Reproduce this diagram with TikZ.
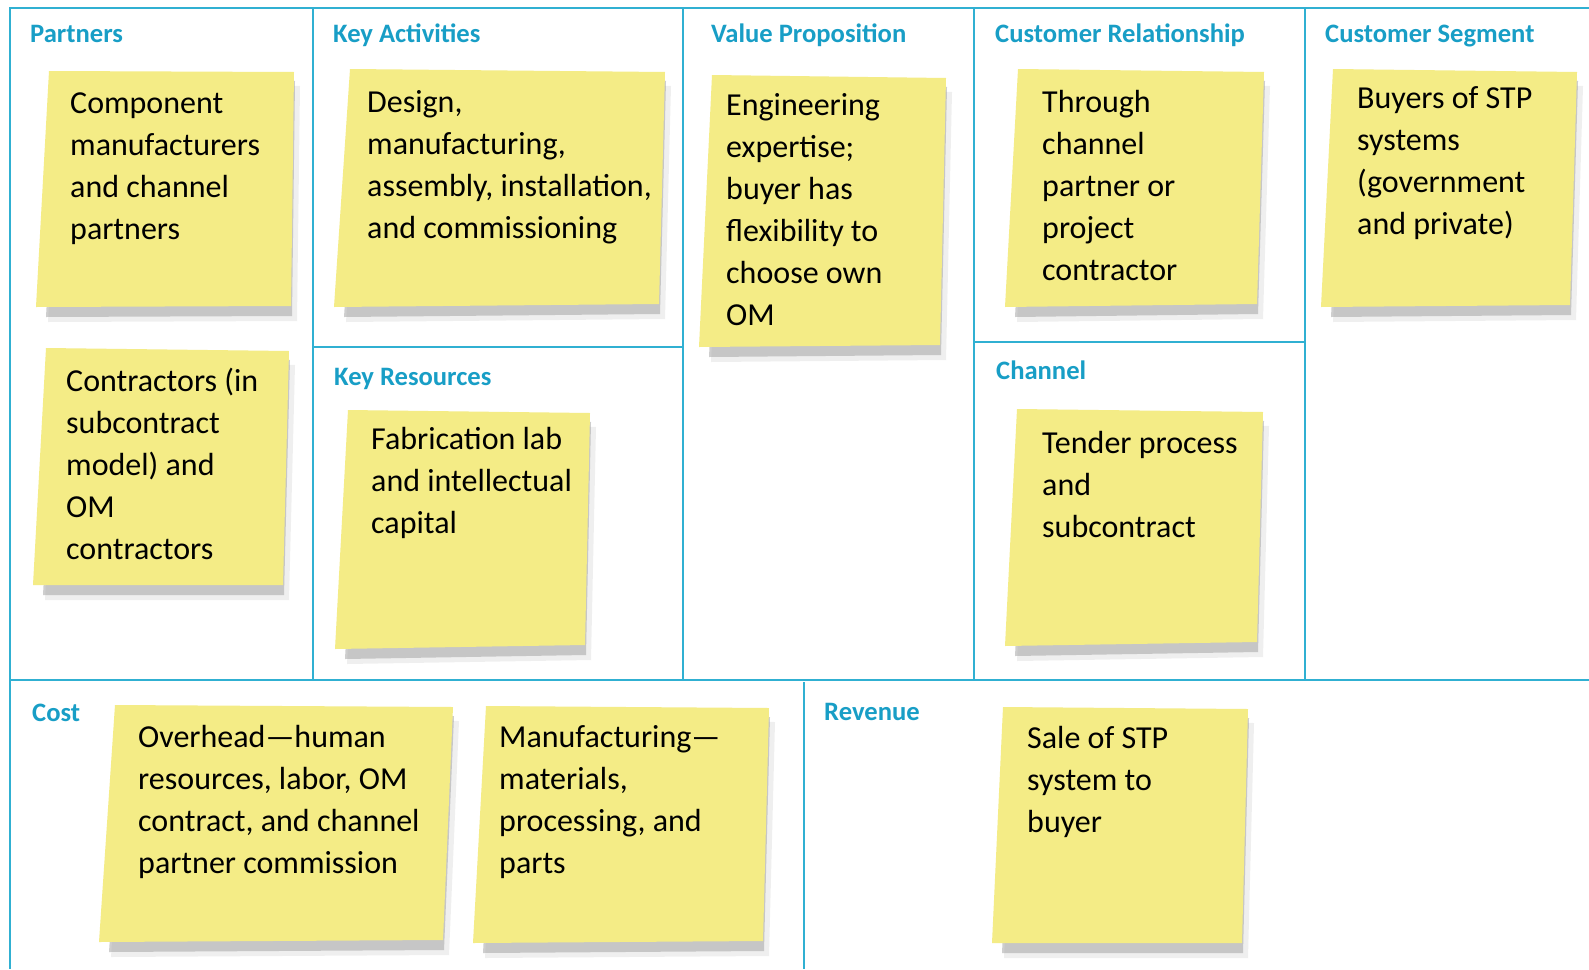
\documentclass[tikz,border=0pt]{standalone}
\usepackage{fontspec}
\setmainfont{Carlito}
\usepackage{tikz}
\usetikzlibrary{positioning}
\definecolor{canvasblue}{RGB}{24,158,198}
\definecolor{linebl}{RGB}{48,176,210}
\definecolor{noteyel}{RGB}{244,236,134}

\begin{document}
\begin{tikzpicture}[x=1pt,y=-1pt,
    grid/.style={draw=linebl,line width=2pt},
    head/.style={anchor=base west,inner sep=0pt,text=canvasblue,
      font=\fontsize{26.6}{30}\selectfont\bfseries},
    notetext/.style={anchor=base west,inner sep=0pt,align=left,
      font=\fontsize{32}{42}\selectfont},
    notefill/.style={fill=noteyel},
    noteshade/.style={fill=black!35,opacity=0.55},
    noteshade2/.style={fill=black!20,opacity=0.3}]
    \useasboundingbox (0,0) rectangle (1589,969);
    \fill[white] (0,0) rectangle (1589,969);

    % the canvas grid
    \draw[grid] (1589,8) -- (10,8) -- (10,969);
    \draw[grid] (10,680) -- (1589,680);
    \foreach \x in {313,683,974,1305}
      \draw[grid] (\x,8) -- (\x,680);
    \draw[grid] (313,347) -- (683,347);
    \draw[grid] (974,342) -- (1305,342);
    \draw[grid] (804,682) -- (804,969);

    % sticky notes
    \foreach \tl/\tr/\br/\bl in {
        {49,71}/{294,72}/{291,306}/{36,307},
        {46,348}/{289,351}/{283,585}/{33,585},
        {350,69}/{665,72}/{659,304}/{334,307},
        {348,410}/{590,413}/{585,645}/{335,649},
        {712,75}/{946,78}/{940,345}/{699,347},
        {1018,69}/{1264,72}/{1257,304}/{1005,307},
        {1017,409}/{1263,412}/{1257,642}/{1005,646},
        {1333,69}/{1577,72}/{1570,305}/{1321,307},
        {115,705}/{453,707}/{443,940}/{99,942},
        {486,706}/{769,708}/{763,941}/{473,943},
        {1003,707}/{1248,709}/{1242,943}/{992,943}} {
      \fill[noteshade2] ([shift={(12,14)}]\tl) -- ([shift={(6,14)}]\tr)
        -- ([shift={(6,15)}]\br) -- ([shift={(12,15)}]\bl) -- cycle;
      \fill[noteshade] ([shift={(10,9)}]\tl) -- ([shift={(1,9)}]\tr)
        -- ([shift={(1,10)}]\br) -- ([shift={(10,10)}]\bl) -- cycle;
      \fill[notefill] (\tl) -- (\tr) -- (\br) -- (\bl) -- cycle;
    }

    % headings
    \node[head] (partners) at (30,42) {Partners};
    \node[head] (activities) at (333,42) {Key Activities};
    \node[head] (value) at (711,42) {Value Proposition};
    \node[head] (relation) at (995,42) {Customer Relationship};
    \node[head] (segment) at (1325,42) {Customer Segment};
    \node[head] (resources) at (334,385) {Key Resources};
    \node[head] (channel) at (996,379) {Channel};
    \node[head] (cost) at (32,721) {Cost};
    \node[head] (revenue) at (824,720) {Revenue};

    % note texts (placed at the baseline of their last line)
    \node[notetext] (partnerA) at (70,239)
      {Component\\manufacturers\\and channel\\partners};
    \node[notetext] (partnerB) at (66,559)
      {Contractors (in\\subcontract\\model) and\\OM\\contractors};
    \node[notetext] (activityA) at (367,238)
      {Design,\\manufacturing,\\assembly, installation,\\and commissioning};
    \node[notetext] (resourceA) at (371,533)
      {Fabrication lab\\and intellectual\\capital};
    \node[notetext] (valueA) at (726,325)
      {Engineering\\expertise;\\buyer has\\flexibility to\\choose own\\OM};
    \node[notetext] (relationA) at (1042,280)
      {Through\\channel\\partner or\\project\\contractor};
    \node[notetext] (channelA) at (1042,537)
      {Tender process\\and\\subcontract};
    \node[notetext] (segmentA) at (1357,234)
      {Buyers of STP\\systems\\(government\\and private)};
    \node[notetext] (costA) at (138,873)
      {Overhead---human\\resources, labor, OM\\contract, and channel\\partner commission};
    \node[notetext] (costB) at (499,873)
      {Manufacturing---\\materials,\\processing, and\\parts};
    \node[notetext] (revenueA) at (1027,832)
      {Sale of STP\\system to\\buyer};
  \end{tikzpicture}
\end{document}
